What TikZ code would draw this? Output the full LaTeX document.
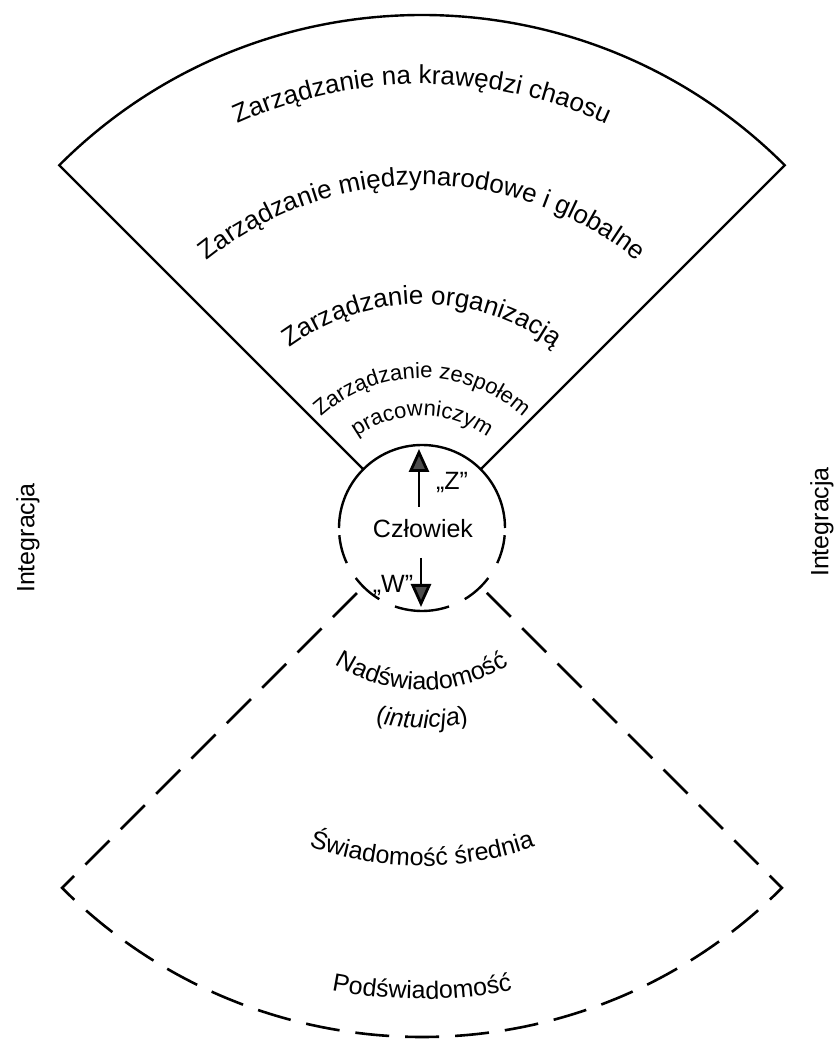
\documentclass[tikz,border=0pt]{standalone}
\usepackage{fontspec}
\setmainfont{Liberation Sans}
\usetikzlibrary{calc,decorations.text,arrows.meta}
\newcommand\fup{\fontsize{26}{31}\selectfont}
\newcommand\fsm{\fontsize{22}{26}\selectfont}
\newcommand\flo{\fontsize{25}{30}\selectfont}
\newcommand\curvtext[4]{%
  \path[decorate,decoration={text along path,text align=center,text={#4}}]
    ($(A)+(#2:#1)$) arc[start angle=#2,end angle=#3,radius=#1];}
\begin{document}
\begin{tikzpicture}[x=1pt,y=1pt,
  solidline/.style={line width=2.4pt,line join=miter},
  dashline/.style={line width=2.6pt,line join=miter,dash pattern=on 34pt off 16pt,dash phase=43pt},
  lbl/.style={font=\flo,inner sep=0pt},
  arr/.style={line width=2.8pt,-{Triangle[length=23pt,width=20pt,fill=black!70]}}]
\useasboundingbox (0,0) rectangle (840,1039);
\coordinate (A) at (422,511);
% upper sector (solid)
\coordinate (ui1) at ($(A)+(135:83)$);
\coordinate (uc1) at ($(A)+(135:513)$);
\coordinate (ui2) at ($(A)+(45:83)$);
\draw[solidline] (ui1) -- (uc1) arc[start angle=135,end angle=45,radius=513] -- (ui2);
% lower sector (dashed)
\coordinate (li1) at ($(A)+(225:85)$);
\coordinate (lc1) at ($(A)+(225:509)$);
\coordinate (li2) at ($(A)+(315:85)$);
\draw[dashline] (li1) -- (lc1) arc[start angle=225,end angle=315,radius=509] -- (li2);
% circle
\draw[solidline] ($(A)+(0:83)$) arc[start angle=0,end angle=180,radius=83];
\foreach \a/\b in {185/205,217/239,251/289,301/323,335/355}{
  \draw[line width=2.4pt] ($(A)+(\a:83)$) arc[start angle=\a,end angle=\b,radius=83];
}
% arrows
\coordinate (zs) at (419,532); \coordinate (zt) at (419,590);
\coordinate (ws) at (421,481); \coordinate (wt) at (421,432);
\draw[arr] (zs) -- (zt);
\draw[arr] (ws) -- (wt);
\node[lbl,anchor=base] (czl) at (423,501) {Człowiek};
\node[lbl,anchor=base] (zl) at (452,549) {„Z”};
\node[lbl,anchor=base] (wl) at (393,446) {„W”};
% side labels
\node[lbl,rotate=90] (intl) at (28,501) {Integracja};
\node[lbl,rotate=90] (intr) at (822,517) {Integracja};
% upper curved texts
\curvtext{444}{120}{60}{|\fup|Zarządzanie na krawędzi chaosu}
\curvtext{343}{140}{40}{|\fup|Zarządzanie międzynarodowe i globalne}
\curvtext{224}{140}{40}{|\fup|Zarządzanie organizacją}
\curvtext{150}{150}{30}{|\fsm|Zarządzanie zespołem}
\curvtext{112}{145}{35}{|\fsm|pracowniczym}
% lower curved texts
\curvtext{162}{215}{325}{|\flo|Nadświadomość}
\curvtext{200}{235}{305}{|\flo|(|\flo\itshape|intuicja|\flo|)}
\curvtext{338}{235}{305}{|\flo|Świadomość średnia}
\curvtext{471}{245}{295}{|\flo|Podświadomość}
\end{tikzpicture}
\end{document}
